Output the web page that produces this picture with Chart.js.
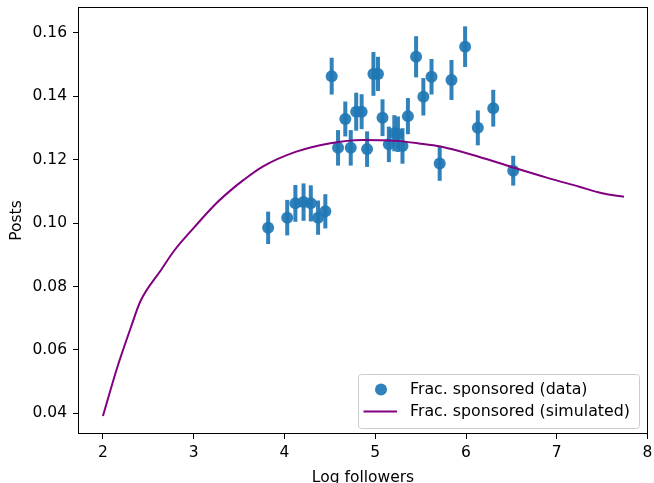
<!DOCTYPE html>
<html>
<head>
<meta charset="utf-8">
<script src="https://cdn.jsdelivr.net/npm/chart.js@4.4.1/dist/chart.umd.min.js"></script>
<style>
  html, body { margin: 0; padding: 0; background: #fff; }
  #wrap { width: 654px; height: 483px; }
</style>
</head>
<body>
<div id="wrap"><canvas id="fracChart" width="654" height="483"></canvas></div>
<script>
// observed fraction of sponsored posts, binned by log followers
const dataX = [3.82, 4.03, 4.12, 4.21, 4.29, 4.37, 4.45, 4.52, 4.59, 4.67, 4.73, 4.79, 4.85, 4.91, 4.98, 5.03,
               5.08, 5.15, 5.21, 5.25, 5.30, 5.36, 5.45, 5.53, 5.62, 5.71, 5.84, 5.99, 6.13, 6.30, 6.52];
const dataY = [0.0985, 0.1017, 0.1062, 0.1066, 0.1062, 0.1017, 0.1037, 0.1463, 0.1237, 0.1328, 0.1237, 0.1351,
               0.1351, 0.1233, 0.1470, 0.1470, 0.1332, 0.1248, 0.1283, 0.1280, 0.1243, 0.1337, 0.1524, 0.1398,
               0.1461, 0.1188, 0.1451, 0.1556, 0.1300, 0.1362, 0.1165];
const dataErr = [0.0051, 0.0056, 0.0058, 0.0059, 0.0057, 0.0054, 0.0054, 0.0058, 0.0056, 0.0055, 0.0056, 0.0060,
                 0.0055, 0.0056, 0.0069, 0.0054, 0.0058, 0.0056, 0.0057, 0.0056, 0.0056, 0.0057, 0.0065, 0.0059,
                 0.0056, 0.0055, 0.0063, 0.0064, 0.0055, 0.0058, 0.0047];

// simulated curve
const simX = [2.00, 2.16, 2.31, 2.41, 2.64, 2.79, 3.01, 3.23, 3.39, 3.55, 3.76, 4.13, 4.49, 4.86, 5.23, 5.48,
              5.72, 6.14, 6.51, 6.88, 7.24, 7.50, 7.74];
const simY = [0.0392, 0.0547, 0.0673, 0.0752, 0.0852, 0.0915, 0.0988, 0.1057, 0.1099, 0.1136, 0.1178, 0.1225,
              0.1251, 0.1262, 0.1259, 0.1251, 0.1241, 0.1209, 0.1176, 0.1144, 0.1115, 0.1094, 0.1083];

const xTicks = [2, 3, 4, 5, 6, 7, 8];
const yTicks = [0.04, 0.06, 0.08, 0.10, 0.12, 0.14, 0.16];

const BLUE = 'rgba(31, 119, 180, 0.92)';
const PURPLE = '#800080';
const FONT = 'DejaVu Sans';
const FSIZE = 15.5;

// error bars under the markers
const errorBars = {
  id: 'errorBars',
  beforeDatasetsDraw(chart) {
    const { ctx, scales: { x, y } } = chart;
    ctx.save();
    ctx.strokeStyle = BLUE;
    ctx.lineWidth = 4;
    ctx.lineCap = 'butt';
    dataX.forEach((v, i) => {
      const px = x.getPixelForValue(v);
      ctx.beginPath();
      ctx.moveTo(px, y.getPixelForValue(dataY[i] - dataErr[i]));
      ctx.lineTo(px, y.getPixelForValue(dataY[i] + dataErr[i]));
      ctx.stroke();
    });
    ctx.restore();
  }
};

// box around the plot + legend in the lower right corner
const frameAndLegend = {
  id: 'frameAndLegend',
  afterDraw(chart) {
    const { ctx, chartArea: a } = chart;
    ctx.save();
    ctx.strokeStyle = '#000';
    ctx.lineWidth = 1;
    ctx.strokeRect(a.left + 0.5, a.top + 0.5, a.right - a.left - 1, a.bottom - a.top - 1);

    const w = 281, h = 54;
    const lx = a.right - 9 - w, ly = a.bottom - 6 - h;
    ctx.beginPath();
    ctx.roundRect(lx + 0.5, ly + 0.5, w, h, 3);
    ctx.fillStyle = 'rgba(255,255,255,0.8)';
    ctx.fill();
    ctx.strokeStyle = '#cccccc';
    ctx.stroke();

    const ds = chart.data.datasets;
    ctx.font = '15.8px "' + FONT + '"';
    ctx.textBaseline = 'middle';
    ctx.textAlign = 'left';

    ctx.beginPath();
    ctx.arc(lx + 23, ly + 15.5, 6, 0, Math.PI * 2);
    ctx.fillStyle = BLUE;
    ctx.fill();
    ctx.fillStyle = '#000';
    ctx.fillText(ds[0].label, lx + 52, ly + 15.5);

    ctx.beginPath();
    ctx.moveTo(lx + 5.5, ly + 37.5);
    ctx.lineTo(lx + 39, ly + 37.5);
    ctx.strokeStyle = PURPLE;
    ctx.lineWidth = 2;
    ctx.stroke();
    ctx.fillText(ds[1].label, lx + 52, ly + 38);
    ctx.restore();
  }
};

const ctx = document.getElementById('fracChart').getContext('2d');
new Chart(ctx, {
  type: 'scatter',
  data: {
    datasets: [
      {
        label: 'Frac. sponsored (data)',
        data: dataX.map((v, i) => ({ x: v, y: dataY[i] })),
        pointRadius: 6,
        pointBackgroundColor: BLUE,
        pointBorderWidth: 0,
        order: 2
      },
      {
        type: 'line',
        label: 'Frac. sponsored (simulated)',
        data: simX.map((v, i) => ({ x: v, y: simY[i] })),
        borderColor: PURPLE,
        borderWidth: 2,
        pointRadius: 0,
        fill: false,
        cubicInterpolationMode: 'monotone',
        order: 1
      }
    ]
  },
  options: {
    responsive: false,
    animation: false,
    layout: { padding: { top: 7, right: 3, left: 0, bottom: 0 } },
    plugins: { legend: { display: false }, tooltip: { enabled: false } },
    scales: {
      x: {
        type: 'linear',
        min: 1.725,
        max: 8.005,
        afterBuildTicks: s => { s.ticks = xTicks.map(v => ({ value: v })); },
        afterFit: s => { s.height = 49; s.paddingLeft = 0; s.paddingRight = 0; },
        ticks: { color: '#000', font: { family: FONT, size: FSIZE }, padding: 5, maxRotation: 0,
                 callback: v => String(v) },
        grid: { drawOnChartArea: false, drawTicks: true, tickLength: 5, color: '#000' },
        border: { display: false },
        title: { display: true, text: 'Log followers', color: '#000',
                 font: { family: FONT, size: FSIZE }, padding: { top: 0, bottom: -4.3 } }
      },
      y: {
        min: 0.0335,
        max: 0.1681,
        afterBuildTicks: s => { s.ticks = yTicks.map(v => ({ value: v })); },
        afterFit: s => { s.width = 78; s.paddingTop = 0; s.paddingBottom = 0; },
        ticks: { color: '#000', font: { family: FONT, size: FSIZE }, padding: 6,
                 callback: v => v.toFixed(2) },
        grid: { drawOnChartArea: false, drawTicks: true, tickLength: 5, color: '#000' },
        border: { display: false },
        title: { display: true, text: 'Posts', color: '#000',
                 font: { family: FONT, size: FSIZE }, padding: { top: 7.7, bottom: 0 } }
      }
    }
  },
  plugins: [errorBars, frameAndLegend]
});
</script>
</body>
</html>
